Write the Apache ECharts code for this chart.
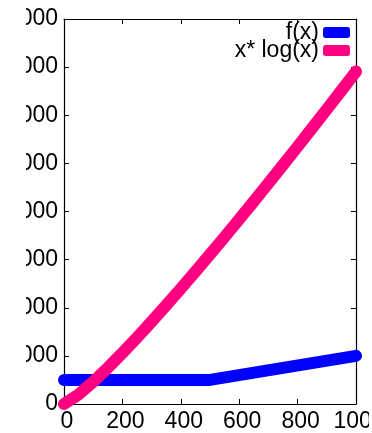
<!DOCTYPE html>
<html><head><meta charset="utf-8">
<script src="https://cdn.jsdelivr.net/npm/echarts@6/dist/echarts.min.js"></script>
<style>html,body{margin:0;padding:0;background:#fff}#c{width:372px;height:433px}</style>
</head><body><div id="c"></div>
<script>
const seriesNames = ['f(x)', 'x* log(x)'];
const fX = [[0, 500], [500, 500], [1000, 1000]];
const xLogX = [[0,0],[50,196],[100,461],[150,752],[200,1060],[250,1380],[300,1711],[350,2050],[400,2397],[450,2749],[500,3107],[550,3470],[600,3838],[650,4210],[700,4586],[750,4965],[800,5348],[850,5734],[900,6122],[950,6515],[1000,6908]];
const xTicks = [0, 200, 400, 600, 800, 1000];
const yTicks = [0,1000,2000,3000,4000,5000,6000,7000,8000];

const chart = echarts.init(document.getElementById('c'), null, {renderer:'canvas'});
const font = 'Liberation Sans, Arial, sans-serif';
const axisCommon = {
  axisLine:{show:true,onZero:false,lineStyle:{color:'#000',width:1.2}},
  axisTick:{show:true,inside:true,length:5,lineStyle:{color:'#000',width:1}},
  splitLine:{show:false}
};
chart.setOption({
  animation:false,
  grid:{left:64,right:16,top:19,bottom:29,containLabel:false,outerBoundsMode:'none'},
  legend:{
    data:seriesNames.map(n=>({name:n,icon:'roundRect'})),
    orient:'vertical', right:22, top:21, align:'right', padding:0,
    itemWidth:27, itemHeight:11, itemGap:-5,
    textStyle:{fontFamily:font,fontSize:23,color:'#000',padding:[0,-1,0,0]}
  },
  xAxis:[
    Object.assign({type:'value',min:0,max:1000,interval:200,position:'bottom',
      axisLabel:{color:'#000',fontFamily:font,fontSize:23,margin:6,padding:[0,0,0,6],
        formatter:v=>String(v)}},axisCommon),
    Object.assign({type:'value',min:0,max:1000,interval:200,position:'top',
      axisLabel:{show:false}},axisCommon)
  ],
  yAxis:[
    Object.assign({type:'value',min:0,max:8000,interval:1000,position:'left',
      axisLabel:{color:'#000',fontFamily:font,fontSize:23,margin:6,
        formatter:v=>String(v)}},axisCommon),
    Object.assign({type:'value',min:0,max:8000,interval:1000,position:'right',
      axisLabel:{show:false}},axisCommon)
  ],
  graphic:[
    {type:'rect',shape:{x:0,y:0,width:26,height:433},style:{fill:'#fff'},z:100},
    {type:'rect',shape:{x:369,y:406,width:10,height:30},style:{fill:'#fff'},z:100}
  ],
  series:[
    {name:seriesNames[0],type:'line',data:fX,showSymbol:false,clip:false,
     color:'#0000ff',lineStyle:{width:12,cap:'round',join:'round',color:'#0000ff'}},
    {name:seriesNames[1],type:'line',data:xLogX,showSymbol:false,clip:false,
     color:'#ff0080',lineStyle:{width:12,cap:'round',join:'round',color:'#ff0080'}}
  ]
});
</script></body></html>
